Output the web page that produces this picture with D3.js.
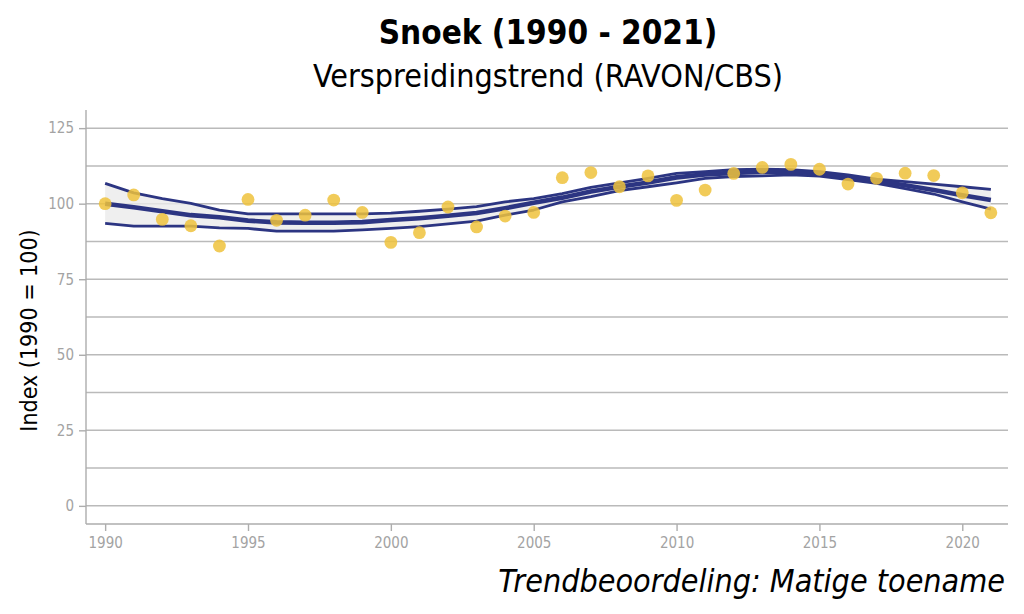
<!DOCTYPE html>
<html>
<head>
<meta charset="utf-8">
<script src="https://cdn.jsdelivr.net/npm/d3@7"></script>
<style>
  body { margin: 0; background: #fff; }
  svg { display: block; font-family: "DejaVu Sans Condensed", "DejaVu Sans", sans-serif; }
</style>
</head>
<body>
<div id="vis"></div>
<script>
const years = d3.range(1990, 2022);
const indexValues = [100, 102.9, 94.8, 92.7, 86, 101.4, 94.5, 96.2, 101.2, 97.1,
  87.2, 90.4, 98.9, 92.3, 95.9, 97.1, 108.6, 110.3, 105.6, 109.2,
  101.1, 104.5, 110, 112, 113, 111.4, 106.5, 108.4, 110.1, 109.3, 103.6, 97];
const trend = [100, 98.8, 97.5, 96.2, 95.5, 94.4, 93.8, 93.7, 93.7, 93.9,
  94.6, 95.2, 96, 96.9, 98.5, 100.3, 102, 104, 105.6, 107,
  108.7, 109.7, 110.2, 110.6, 110.6, 110, 108.7, 107.5, 106.1, 104.5, 102.8, 101.2];
const upper = [106.7, 103.6, 101.7, 100.1, 97.9, 96.6, 96.6, 96.6, 96.6, 96.6,
  96.9, 97.5, 98.2, 99, 100.6, 101.7, 103.3, 105.4, 106.9, 108.4,
  110, 110.6, 111.3, 111.4, 111.3, 110.6, 109.5, 108.1, 107.3, 106.5, 105.6, 104.7];
const lower = [93.5, 92.6, 92.6, 92.6, 92, 91.8, 90.9, 90.9, 90.9, 91.3,
  91.8, 92.4, 93.3, 94.2, 96.2, 97.9, 100.6, 102.3, 104.3, 105.6,
  106.9, 108.4, 109, 109.2, 109.5, 109.1, 108, 106.7, 105, 103.2, 100.6, 98.2];
const yTicks = [0, 25, 50, 75, 100, 125];
const yMinor = [12.5, 37.5, 62.5, 87.5, 112.5];
const xTicks = [1990, 1995, 2000, 2005, 2010, 2015, 2020];

const W = 1024, H = 614;
const plot = { left: 86, right: 1008, top: 110, bottom: 524 };

const svg = d3.select("#vis").append("svg")
  .attr("width", W)
  .attr("height", H);

const x = d3.scaleLinear().domain([1989.33, 2021.6]).range([plot.left, plot.right]);
const y = d3.scaleLinear().domain([-6, 131]).range([plot.bottom, plot.top]);

const rows = years.map((yr, i) => ({
  year: yr, value: indexValues[i], trend: trend[i], upper: upper[i], lower: lower[i]
}));

// grid
svg.append("g")
  .selectAll("line")
  .data(yTicks.concat(yMinor))
  .join("line")
  .attr("x1", plot.left).attr("x2", plot.right)
  .attr("y1", d => y(d)).attr("y2", d => y(d))
  .attr("stroke", "#bababa")
  .attr("stroke-width", 1.5);

// axes
const yAxis = svg.append("g")
  .attr("transform", `translate(${plot.left},0)`)
  .call(d3.axisLeft(y).tickValues(yTicks).tickSize(7).tickPadding(5));
yAxis.select(".domain").attr("d", `M0,${plot.top}V${plot.bottom}`);

const xAxis = svg.append("g")
  .attr("transform", `translate(0,${plot.bottom})`)
  .call(d3.axisBottom(x).tickValues(xTicks).tickFormat(d3.format("d")).tickSize(7).tickPadding(6));
xAxis.select(".domain").attr("d", `M${plot.left},0H${plot.right}`);

svg.selectAll(".domain, .tick line").attr("stroke", "#adadad").attr("stroke-width", 1.4);
svg.selectAll(".tick text")
  .attr("fill", "#a3a3a3")
  .style("font-family", "'DejaVu Sans Condensed', 'DejaVu Sans', sans-serif")
  .style("font-size", "15px");

// confidence ribbon
svg.append("path")
  .datum(rows)
  .attr("fill", "#ebebeb")
  .attr("fill-opacity", 0.8)
  .attr("d", d3.area()
    .x(d => x(d.year))
    .y0(d => y(d.lower))
    .y1(d => y(d.upper)));

const navy = "#2c3582";
[["upper", 2.8], ["lower", 2.8], ["trend", 4.6]].forEach(([key, w]) => {
  svg.append("path")
    .datum(rows)
    .attr("fill", "none")
    .attr("stroke", navy)
    .attr("stroke-width", w)
    .attr("stroke-linejoin", "round")
    .attr("d", d3.line().x(d => x(d.year)).y(d => y(d[key])));
});

// observed index points
svg.append("g")
  .selectAll("circle")
  .data(rows)
  .join("circle")
  .attr("cx", d => x(d.year))
  .attr("cy", d => y(d.value))
  .attr("r", 6.4)
  .attr("fill", "#efc23c")
  .attr("fill-opacity", 0.85);

// titles
svg.append("text")
  .attr("x", 548).attr("y", 44)
  .attr("text-anchor", "middle")
  .attr("font-weight", "bold")
  .attr("font-size", 33)
  .attr("fill", "#000")
  .text("Snoek (1990 - 2021)");

svg.append("text")
  .attr("x", 548).attr("y", 87)
  .attr("text-anchor", "middle")
  .attr("font-size", 32)
  .attr("fill", "#000")
  .text("Verspreidingstrend (RAVON/CBS)");

svg.append("text")
  .attr("transform", `translate(37,${(233 + 428) / 2}) rotate(-90)`)
  .attr("text-anchor", "middle")
  .attr("font-size", 23)
  .attr("fill", "#000")
  .text("Index (1990 = 100)");

svg.append("text")
  .attr("x", 1005).attr("y", 592)
  .attr("text-anchor", "end")
  .attr("font-style", "italic")
  .attr("font-size", 32)
  .attr("fill", "#000")
  .text("Trendbeoordeling: Matige toename");
</script>
</body>
</html>
